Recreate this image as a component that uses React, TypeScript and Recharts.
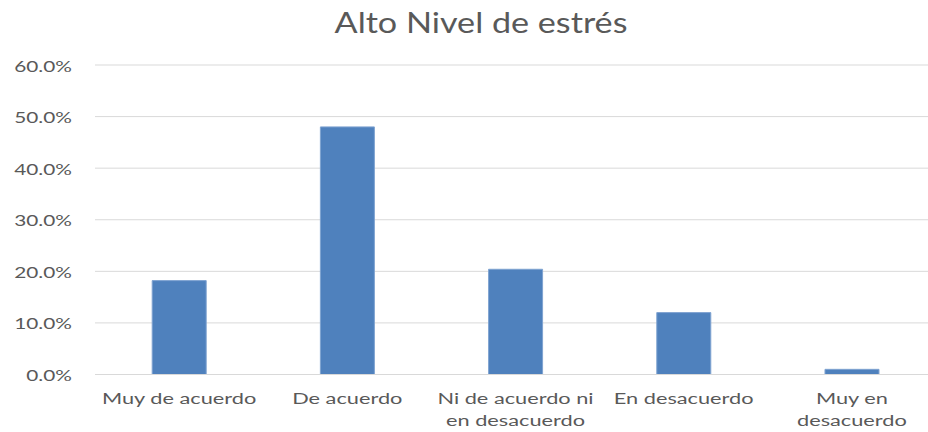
import React from 'react';
import { BarChart, Bar, XAxis, YAxis, CartesianGrid } from 'recharts';

const title = 'Alto Nivel de estrés';
const categories = [
  'Muy de acuerdo',
  'De acuerdo',
  'Ni de acuerdo ni en desacuerdo',
  'En desacuerdo',
  'Muy en desacuerdo',
];
const categoryLines = [
  ['Muy de acuerdo'],
  ['De acuerdo'],
  ['Ni de acuerdo ni', 'en desacuerdo'],
  ['En desacuerdo'],
  ['Muy en', 'desacuerdo'],
];
const values = [0.182, 0.48, 0.204, 0.12, 0.01];
const yTicks = [0, 0.1, 0.2, 0.3, 0.4, 0.5, 0.6];
const yTickLabels = ['0.0%', '10.0%', '20.0%', '30.0%', '40.0%', '50.0%', '60.0%'];

const data = categories.map((c, i) => ({ name: c, value: values[i] }));

const FONT = 'Lato, "Open Sans", sans-serif';
const TEXT = '#595959';
const SX = 1.3;
const SXX = 1.36;

const XTick = (props: any) => {
  const { x, y, payload } = props;
  const lines = categoryLines[payload.index] || [String(payload.value)];
  return (
    <g transform={`translate(${x},${y}) scale(${SXX},1)`}>
      <text textAnchor="middle" fill={TEXT} fontFamily={FONT} fontSize={16}>
        {lines.map((l, i) => (
          <tspan key={i} x={0} y={30 + i * 22}>{l}</tspan>
        ))}
      </text>
    </g>
  );
};

const YTick = (props: any) => {
  const { x, y, payload } = props;
  const idx = yTicks.findIndex((t) => Math.abs(t - payload.value) < 1e-9);
  const label = idx >= 0 ? yTickLabels[idx] : String(payload.value);
  return (
    <g transform={`translate(${x - 23},${y + 6.5}) scale(${SX},1)`}>
      <text textAnchor="end" fill={TEXT} fontFamily={FONT} fontSize={16} x={0} y={0}>
        {label}
      </text>
    </g>
  );
};

export default function App() {
  return (
    <div style={{ position: 'absolute', left: 0, top: 0, width: 928, height: 432, overflow: 'hidden', background: '#fff' }}>
      <BarChart
        width={936}
        height={432}
        data={data}
        margin={{ top: 65, right: 0, left: 0, bottom: 0 }}
        barCategoryGap="34%"
      >
        <CartesianGrid vertical={false} stroke="#D9D9D9" strokeWidth={1} />
        <XAxis
          dataKey="name"
          axisLine={{ stroke: '#D9D9D9' }}
          tickLine={false}
          tickSize={0}
          tickMargin={0}
          height={57.5}
          interval={0}
          tick={<XTick />}
        />
        <YAxis
          domain={[0, 0.6]}
          ticks={yTicks}
          axisLine={false}
          tickLine={false}
          tickSize={0}
          tickMargin={0}
          width={95}
          tick={<YTick />}
        />
        <Bar dataKey="value" fill="#4F81BD" stroke="#7FA3D1" strokeWidth={1} isAnimationActive={false} />
      </BarChart>
      <svg width={928} height={432} style={{ position: 'absolute', left: 0, top: 0, pointerEvents: 'none' }}>
        <g transform="translate(481,33) scale(1.22,1)">
          <text x={0} y={0} textAnchor="middle" fill={TEXT} fontFamily={FONT} fontSize={28}>
            {title}
          </text>
        </g>
      </svg>
    </div>
  );
}
